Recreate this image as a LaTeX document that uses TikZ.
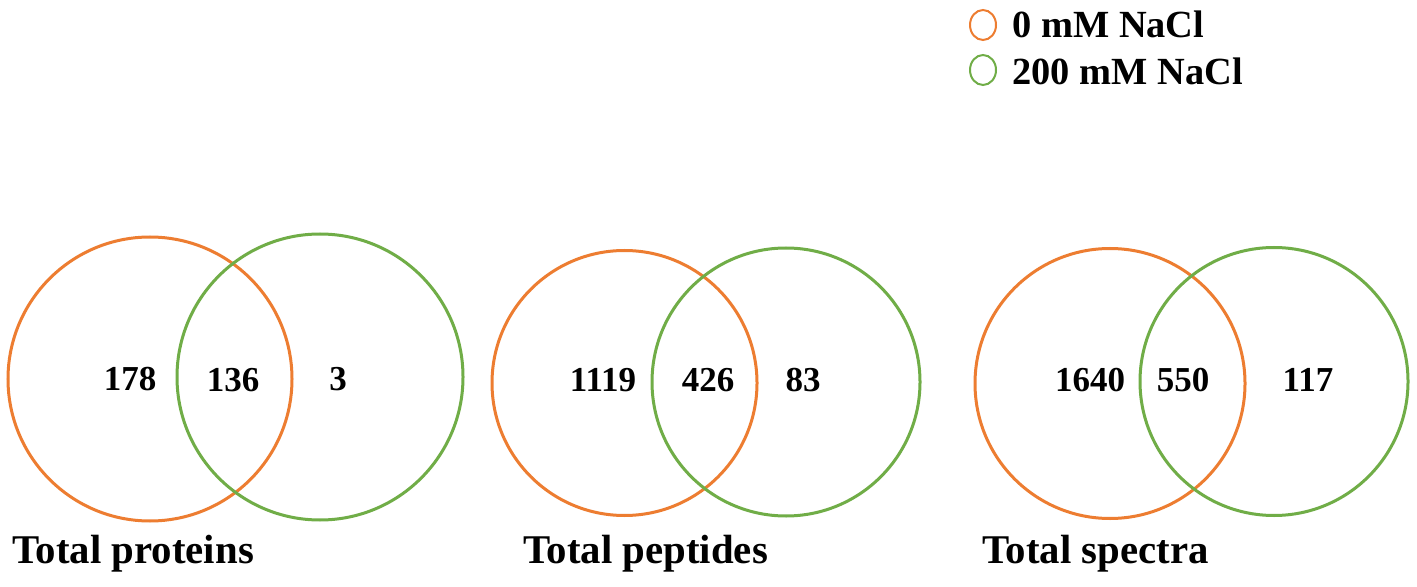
\documentclass[tikz,border=0pt]{standalone}
\usepackage{fontspec}
\setmainfont{Liberation Serif}
\definecolor{ora}{RGB}{237,125,49}
\definecolor{gre}{RGB}{112,173,71}
\begin{document}
\begin{tikzpicture}[x=0.5pt,y=-0.5pt,
  setA/.style={draw=ora,line width=1.5pt},
  setB/.style={draw=gre,line width=1.5pt},
  num/.style={anchor=base,font=\fontsize{17.5}{20}\selectfont\bfseries,inner sep=0pt},
  ttl/.style={anchor=base west,font=\fontsize{20.4}{23}\selectfont\bfseries,inner sep=0pt},
  leg/.style={anchor=base west,font=\fontsize{19.2}{22}\selectfont\bfseries,inner sep=0pt}]
\useasboundingbox[fill=white] (0,0) rectangle (1417,587);
% legend
\draw[draw=ora,line width=1pt] (983,25) ellipse [x radius=13,y radius=15];
\draw[draw=gre,line width=1pt] (983,70) ellipse [x radius=13,y radius=15];
\node[leg] (l1) at (1012,38) {0 mM NaCl};
\node[leg] (l2) at (1012,85) {200 mM NaCl};
% panel 1
\draw[setA] (150,379) circle [radius=142];
\draw[setB] (320,377) circle [radius=143];
\node[num] (p1a) at (130,390) {178};
\node[num] (p1b) at (233,391) {136};
\node[num] (p1c) at (338,390) {3};
\node[ttl] (t1) at (12,563) {Total proteins};
% panel 2
\draw[setA] (624.5,383) circle [radius=132.5];
\draw[setB] (786,382) circle [radius=134];
\node[num] (p2a) at (603,391) {1119};
\node[num] (p2b) at (708,391) {426};
\node[num] (p2c) at (803,391) {83};
\node[ttl] (t2) at (523,563) {Total peptides};
% panel 3
\draw[setA] (1110,383.5) circle [radius=135];
\draw[setB] (1274,381.5) circle [radius=134];
\node[num] (p3a) at (1090,391) {1640};
\node[num] (p3b) at (1183,391) {550};
\node[num] (p3c) at (1308,391) {117};
\node[ttl] (t3) at (982,563) {Total spectra};
\end{tikzpicture}
\end{document}
